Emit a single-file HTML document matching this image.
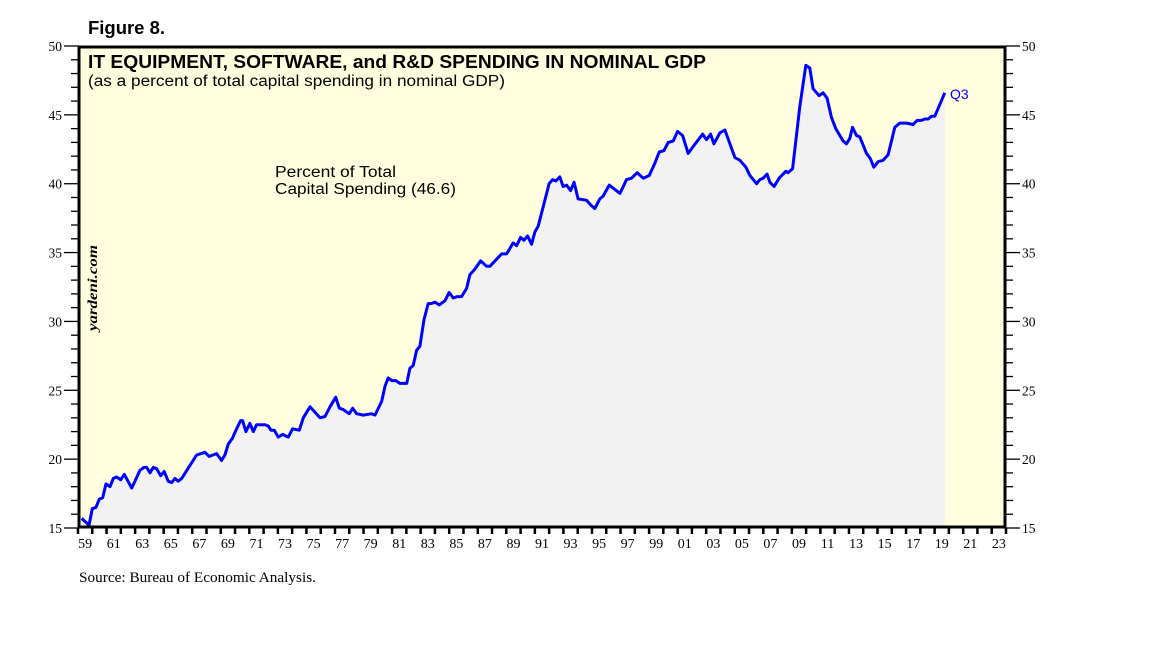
<!DOCTYPE html>
<html><head><meta charset="utf-8"><style>
body{margin:0;background:#fff;width:1152px;height:648px;overflow:hidden}
svg text{font-family:"Liberation Sans",sans-serif}
</style></head><body>
<svg id="chart" width="1152" height="648" xmlns="http://www.w3.org/2000/svg">
<text x="88" y="34" font-size="18" font-weight="bold" fill="#000" textLength="77" lengthAdjust="spacingAndGlyphs">Figure 8.</text>
<rect x="78" y="46" width="928" height="482" fill="#ffffe0"/>
<path id="area" fill="#f2f2f2"/>
<path id="line" fill="none" stroke="#0000ff" stroke-width="3" stroke-linejoin="round"/>
<g id="yticks"></g>
<g id="xticks"></g>
<rect x="79" y="47" width="926" height="480" fill="none" stroke="#000" stroke-width="3"/>
<text x="88" y="68" font-size="18" font-weight="bold" fill="#000" textLength="618" lengthAdjust="spacingAndGlyphs">IT EQUIPMENT, SOFTWARE, and R&amp;D SPENDING IN NOMINAL GDP</text>
<text x="88" y="86" font-size="15.5" fill="#000" textLength="417" lengthAdjust="spacingAndGlyphs">(as a percent of total capital spending in nominal GDP)</text>
<text x="275" y="177" font-size="15.5" fill="#000" textLength="121" lengthAdjust="spacingAndGlyphs">Percent of Total</text>
<text x="275" y="194" font-size="15.5" fill="#000" textLength="181" lengthAdjust="spacingAndGlyphs">Capital Spending (46.6)</text>
<text x="950" y="99" font-size="14" fill="#0000ff">Q3</text>
<text x="0" y="0" font-size="14" font-style="italic" font-weight="bold" transform="translate(97,331) rotate(-90)" fill="#000" textLength="86" lengthAdjust="spacingAndGlyphs" style="font-family:'Liberation Serif',serif">yardeni.com</text>
<text x="79" y="582" font-size="14.5" fill="#000" textLength="237" lengthAdjust="spacingAndGlyphs" style="font-family:'Liberation Serif',serif">Source: Bureau of Economic Analysis.</text>
</svg>
<script>
const years=[1959.26,1959.77,1960.00,1960.26,1960.49,1960.73,1960.96,1961.24,1961.47,1961.71,1961.99,1962.24,1962.76,1963.34,1963.62,1963.81,1964.04,1964.27,1964.51,1964.79,1965.04,1965.32,1965.56,1965.79,1966.02,1966.26,1967.31,1967.89,1968.19,1968.71,1969.06,1969.29,1969.53,1969.81,1970.11,1970.39,1970.53,1970.76,1971.04,1971.28,1971.51,1972.10,1972.33,1972.52,1972.75,1973.03,1973.33,1973.73,1974.03,1974.50,1974.78,1975.25,1975.95,1976.30,1976.65,1977.05,1977.30,1977.58,1978.00,1978.24,1978.52,1978.98,1979.57,1979.80,1980.27,1980.50,1980.73,1980.97,1981.27,1981.55,1982.02,1982.25,1982.48,1982.72,1982.95,1983.23,1983.53,1983.77,1984.00,1984.30,1984.70,1985.00,1985.28,1985.56,1985.87,1986.22,1986.45,1986.80,1987.20,1987.62,1987.85,1988.67,1989.02,1989.48,1989.72,1990.00,1990.23,1990.49,1990.77,1991.00,1991.23,1991.58,1992.00,1992.24,1992.47,1992.75,1992.98,1993.22,1993.50,1993.75,1994.03,1994.62,1994.97,1995.20,1995.55,1995.78,1996.21,1996.96,1997.42,1997.77,1998.17,1998.59,1999.01,1999.41,1999.71,2000.04,2000.34,2000.69,2001.00,2001.35,2001.74,2002.09,2002.75,2003.02,2003.31,2003.54,2003.96,2004.31,2005.01,2005.36,2005.78,2006.06,2006.53,2006.76,2006.99,2007.27,2007.46,2007.76,2008.11,2008.58,2008.74,2009.05,2009.56,2009.98,2010.26,2010.49,2010.91,2011.19,2011.47,2011.78,2012.08,2012.59,2012.83,2013.06,2013.25,2013.53,2013.76,2014.23,2014.51,2014.74,2015.04,2015.39,2015.74,2016.21,2016.56,2017.03,2017.49,2017.77,2018.08,2018.31,2018.55,2018.79,2019.01,2019.71];
const values=[15.7,15.2,16.4,16.5,17.1,17.2,18.2,18.0,18.6,18.7,18.5,18.9,17.9,19.2,19.4,19.4,19.0,19.4,19.3,18.8,19.1,18.4,18.3,18.6,18.4,18.6,20.3,20.5,20.2,20.4,19.9,20.3,21.1,21.5,22.2,22.8,22.8,22.0,22.6,22.0,22.5,22.5,22.4,22.1,22.1,21.6,21.8,21.6,22.2,22.1,23.0,23.8,23.0,23.1,23.8,24.5,23.7,23.6,23.3,23.7,23.3,23.2,23.3,23.2,24.2,25.3,25.9,25.7,25.7,25.5,25.5,26.6,26.8,27.9,28.2,30.1,31.3,31.3,31.4,31.2,31.5,32.1,31.7,31.8,31.8,32.4,33.4,33.8,34.4,34.0,34.0,34.9,34.9,35.7,35.5,36.1,35.9,36.2,35.6,36.5,36.9,38.3,40.0,40.3,40.2,40.5,39.8,39.9,39.5,40.1,38.9,38.8,38.4,38.2,38.9,39.1,39.9,39.3,40.3,40.4,40.8,40.4,40.6,41.5,42.3,42.4,43.0,43.1,43.8,43.5,42.2,42.7,43.6,43.2,43.6,42.9,43.7,43.9,41.9,41.7,41.2,40.6,40.0,40.3,40.4,40.7,40.1,39.8,40.4,40.9,40.8,41.1,45.6,48.6,48.4,46.9,46.4,46.6,46.2,44.8,44.0,43.1,42.9,43.3,44.1,43.5,43.4,42.2,41.8,41.2,41.6,41.7,42.1,44.1,44.4,44.4,44.3,44.6,44.6,44.7,44.7,44.9,44.9,46.6];
const yTickLabels=[15,20,25,30,35,40,45,50];
const xTickLabels=["59","61","63","65","67","69","71","73","75","77","79","81","83","85","87","89","91","93","95","97","99","01","03","05","07","09","11","13","15","17","19","21","23"];
const X0=1959,X1=2024,Y0=15,Y1=50,L=78,R=1006,T=46,B=528;
const sx=v=>L+(v-X0)/(X1-X0)*(R-L);
const sy=v=>B-(v-Y0)/(Y1-Y0)*(B-T);
const NS='http://www.w3.org/2000/svg';
let d='';years.forEach((y,i)=>{d+=(i?'L':'M')+sx(y).toFixed(1)+','+sy(values[i]).toFixed(1)});
document.getElementById('line').setAttribute('d',d);
document.getElementById('area').setAttribute('d','M'+L+','+sy(values[0])+d.replace('M','L')+'L'+sx(years[years.length-1]).toFixed(1)+','+B+'L'+L+','+B+'Z');
const yg=document.getElementById('yticks');
function mk(tag,attrs,parent){const e=document.createElementNS(NS,tag);for(const k in attrs)e.setAttribute(k,attrs[k]);parent.appendChild(e);return e;}
for(let v=Y0;v<=Y1;v++){
  const major=v%5===0,y=sy(v);
  const t1=mk('line',{x1:L-(major?14:7),x2:L,y1:y,y2:y,stroke:'#000','stroke-width':1.3},yg);
  
  
  const t2=mk('line',{x1:R,x2:R+(major?14:7),y1:y,y2:y,stroke:'#000','stroke-width':1.3},yg);
  
  
}
yTickLabels.forEach(v=>{
  const a=mk('text',{x:L-16,y:sy(v)+5,'text-anchor':'end','font-size':13.5,style:"font-family:'Liberation Serif',serif"},yg);a.textContent=v;
  
  
  const b=mk('text',{x:R+16,y:sy(v)+5,'font-size':13.5,style:"font-family:'Liberation Serif',serif"},yg);b.textContent=v;
  
  
});
const xg=document.getElementById('xticks');
for(let yr=X0;yr<=X1;yr++){
  const t=mk('line',{x1:sx(yr),x2:sx(yr),y1:B,y2:B+6,stroke:'#000','stroke-width':2.5},xg);
  
  
}
xTickLabels.forEach((s,i)=>{
  const t=mk('text',{x:sx(X0+2*i+0.5),y:B+20,'text-anchor':'middle','font-size':14,style:"font-family:'Liberation Serif',serif"},xg);t.textContent=s;
  
  
});
</script>
</body></html>
